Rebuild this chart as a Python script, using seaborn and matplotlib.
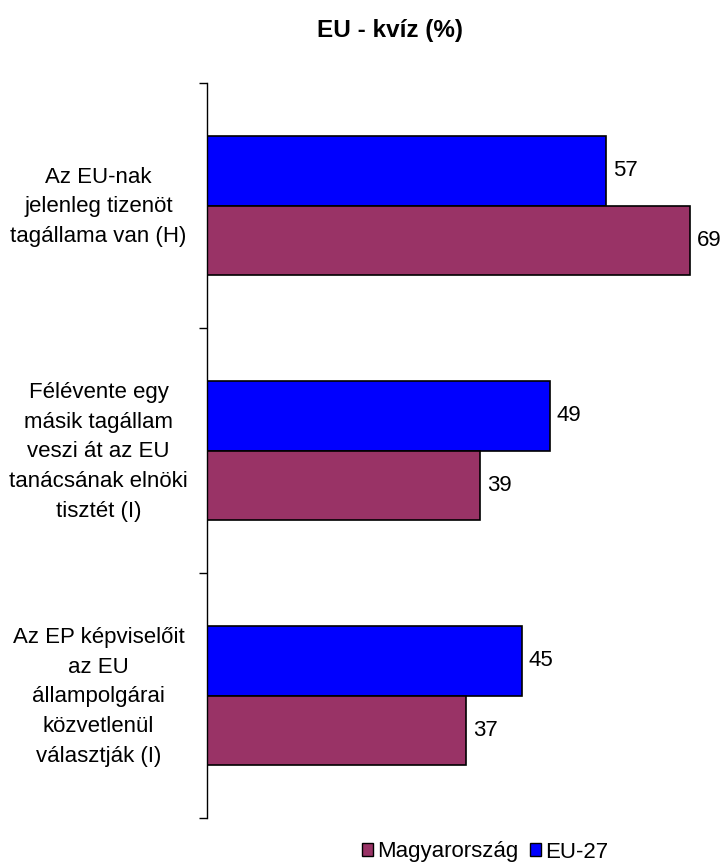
import matplotlib
matplotlib.use("Agg")
import matplotlib.pyplot as plt
import matplotlib.transforms as mtransforms
import seaborn as sns
import pandas as pd
from matplotlib.patches import Patch

categories = [
    "Az EU-nak\njelenleg tizenöt\ntagállama van (H)",
    "Félévente egy\nmásik tagállam\nveszi át az EU\ntanácsának elnöki\ntisztét (I)",
    "Az EP képviselőit\naz EU\nállampolgárai\nközvetlenül\nválasztják (I)",
]
series_names = ["EU-27", "Magyarország"]
eu27 = [57, 49, 45]
hungary = [69, 39, 37]
colors = {"EU-27": "#0000FF", "Magyarország": "#993366"}

df = pd.DataFrame({
    "cat": categories * 2,
    "series": ["EU-27"] * 3 + ["Magyarország"] * 3,
    "value": eu27 + hungary,
})

sns.set_theme(style="white")
plt.rcParams["font.family"] = ["Liberation Sans", "DejaVu Sans"]

fig = plt.figure(figsize=(7.23, 8.65), dpi=100)
ax = fig.add_axes([207 / 723, 1 - 818 / 865, 1 - 207 / 723 - 0.01, (818 - 83) / 865])

sns.barplot(data=df, y="cat", x="value", hue="series", hue_order=series_names,
            palette=colors, orient="h", width=0.571, edgecolor="black",
            linewidth=1.2, saturation=1, ax=ax, legend=False)

px_per_unit = 7.0
ax.set_xlim(0, ax.get_position().width * 723 / px_per_unit)
ax.set_ylim(2.5, -0.5)

for cont in ax.containers:
    ax.bar_label(cont, padding=5, fontsize=16, color="black")

ax.set_xlabel("")
ax.set_ylabel("")
ax.set_xticks([])
ax.set_yticks([0, 1, 2])
ax.set_yticklabels(categories, fontsize=16, ha="center", linespacing=1.55,
                   color="black")
ax.tick_params(axis="y", which="major", length=0, pad=78)
ax.set_yticks([-0.5, 0.5, 1.5, 2.5], minor=True)
ax.tick_params(axis="y", which="minor", length=6, width=1, color="black", left=True)
for s in ["top", "right", "bottom"]:
    ax.spines[s].set_visible(False)
ax.spines["left"].set_color("black")
ax.spines["left"].set_linewidth(1)

offset = mtransforms.ScaledTranslation(0, 4 / 72, fig.dpi_scale_trans)
for lbl in ax.get_yticklabels():
    lbl.set_transform(lbl.get_transform() + offset)

fig.text(390 / 723, 1 - 30 / 865, "EU - kvíz (%)", ha="center", va="center",
         fontsize=17.5, fontweight="bold", color="black")

handles = [Patch(facecolor=colors["Magyarország"], edgecolor="black"),
           Patch(facecolor=colors["EU-27"], edgecolor="black")]
fig.legend(handles, ["Magyarország", "EU-27"], loc="center",
           bbox_to_anchor=(485 / 723, 1 - 852 / 865), ncol=2, frameon=False,
           fontsize=16, handlelength=0.5, handleheight=0.5, handletextpad=0.2,
           columnspacing=0.5, borderpad=0, labelcolor="black")

fig.savefig("out.png", dpi=100, facecolor="white")
